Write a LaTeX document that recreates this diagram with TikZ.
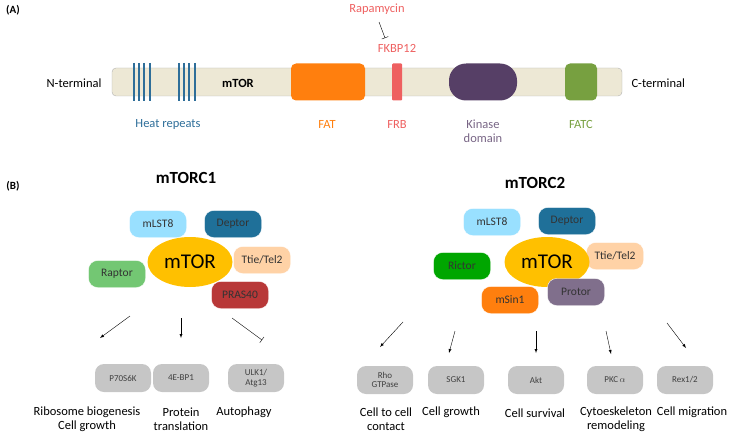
\documentclass[tikz,border=0pt]{standalone}
\usepackage{fontspec}
\setmainfont{Carlito}
\usepackage{xcolor}
\usetikzlibrary{arrows.meta,shapes.geometric}
\definecolor{beige}{HTML}{EDE8D5}
\definecolor{heatblue}{HTML}{2E6E99}
\definecolor{fatorange}{HTML}{FF7F0E}
\definecolor{frbred}{HTML}{EE6060}
\definecolor{kinpurple}{HTML}{563F66}
\definecolor{fatcgreen}{HTML}{77A040}
\definecolor{mtoryellow}{HTML}{FFC000}
\definecolor{depblue}{HTML}{1F7099}
\definecolor{prasred}{HTML}{B83838}
\begin{document}
\begin{tikzpicture}[>=latex, x=1pt, y=-1pt]
        \tikzstyle{dom} = [rounded corners=5pt, minimum height=37pt]
        \tikzstyle{sub} = [draw=white, rounded corners=9pt, minimum height=27pt,
            minimum width=57pt, font=\fontsize{11.5}{12}\selectfont, text=black!80]
        \tikzstyle{target} = [fill=gray!45, rounded corners=9pt, minimum height=28pt,
            minimum width=56pt, font=\fontsize{9}{9.5}\selectfont, align=center, text=black!75]
        \tikzstyle{effect} = [font=\fontsize{12.5}{14}\selectfont, align=center]
        \tikzstyle{stateEdge} = [->];
        \tikzstyle{blockEdge} = [-{Bar[width=7pt]}];
        \useasboundingbox (0,0) rectangle (735,441);

        % (A) domain structure
        \node[font=\bfseries\fontsize{11}{12}\selectfont] (labA) at (13,10) {(A)};
        \node[draw=gray!60, fill=beige, rounded corners=4pt, minimum width=510pt,
            minimum height=28pt] (bar) at (367,82) {};
        \foreach \x in {134,139,144,150,179,184,189,195}
            \draw[heatblue, line width=1.2pt] (\x,63) -- (\x,101);
        \node[font=\bfseries\fontsize{12.5}{13}\selectfont] (mtorA) at (238,83) {mTOR};
        \node[dom, fill=fatorange, minimum width=74pt] (fat) at (328,82) {};
        \node[dom, fill=frbred, minimum width=10pt, rounded corners=1pt] (frb) at (397,82) {};
        \node[dom, fill=kinpurple, minimum width=68pt, rounded corners=17pt] (kin) at (483,82) {};
        \node[dom, fill=fatcgreen, minimum width=32pt] (fatc) at (581,82) {};
        \node[effect, anchor=east] (nterm) at (105,83) {N-terminal};
        \node[effect, anchor=west] (cterm) at (628,83) {C-terminal};
        \node[effect, text=heatblue] (heatlab) at (168,124) {Heat repeats};
        \node[effect, text=fatorange] (fatlab) at (327,124) {FAT};
        \node[effect, text=frbred] (frblab) at (397,124) {FRB};
        \node[effect, text=kinpurple!80, anchor=north] (kinlab) at (483,116) {Kinase\\domain};
        \node[effect, text=fatcgreen] (fatclab) at (581,124) {FATC};
        \node[effect, text=frbred] (rapa) at (377,9) {Rapamycin};
        \node[effect, text=frbred] (fkbp) at (397,48) {FKBP12};
        \coordinate (rapaEnd) at (379,22);
        \coordinate (fkbpTop) at (385,38);
        \draw[blockEdge] (rapaEnd) -- (fkbpTop);

        % (B) complexes
        \node[font=\bfseries\fontsize{11}{12}\selectfont] (labB) at (13,186) {(B)};
        \node[font=\bfseries\fontsize{17}{19}\selectfont] (c1) at (186,178) {mTORC1};
        \node[font=\bfseries\fontsize{17}{19}\selectfont] (c2) at (535,183) {mTORC2};

        \node[sub, fill=blue!30!cyan!40] (lst1) at (158,224) {mLST8};
        \node[sub, fill=depblue] (dep1) at (233,224) {Deptor};
        \node[sub, fill=orange!35] (tti1) at (262,260) {Ttie/Tel2};
        \node[ellipse, fill=mtoryellow, minimum width=85pt, minimum height=50pt,
            font=\fontsize{21}{22}\selectfont] (mtor1) at (190,262) {mTOR};
        \node[sub, fill=green!60!black!55] (rap1) at (117,274) {Raptor};
        \node[sub, fill=prasred] (pras1) at (240,295) {PRAS40};

        \node[sub, fill=blue!30!cyan!40] (lst2) at (492,222) {mLST8};
        \node[sub, fill=depblue] (dep2) at (567,221) {Deptor};
        \node[sub, fill=orange!35] (tti2) at (615,256) {Ttie/Tel2};
        \node[ellipse, fill=mtoryellow, minimum width=85pt, minimum height=50pt,
            font=\fontsize{21}{22}\selectfont] (mtor2) at (547,262) {mTOR};
        \node[sub, fill=green!65!black] (ric2) at (462,266) {Rictor};
        \node[sub, fill=fatorange] (sin2) at (510,300) {mSin1};
        \node[sub, fill=kinpurple!75] (pro2) at (576,292) {Protor};

        % downstream targets
        \node[target] (p70) at (123,378) {P70S6K};
        \node[target] (ebp) at (181,378) {4E-BP1};
        \node[target] (ulk) at (256,378) {ULK1/\\Atg13};
        \node[target] (rho) at (385,380) {Rho\\GTPase};
        \node[target] (sgk) at (456,380) {SGK1};
        \node[target] (akt) at (536,380) {Akt};
        \node[target] (pkc) at (615,380) {PKC\,$\alpha$};
        \node[target] (rex) at (685,380) {Rex1/2};

        \foreach \name/\sx/\sy/\tx/\ty in {s1/130/316/100/338, s2/181/318/181/338,
            s3/232/318/262/340, s4/403/322/380/347, s5/455/331/449/353,
            s6/536/331/536/353, s7/606/331/611/354, s8/667/323/686/348} {
            \coordinate (\name a) at (\sx,\sy);
            \coordinate (\name b) at (\tx,\ty);
        }
        \draw[stateEdge] (s1a) -- (s1b);
        \draw[stateEdge] (s2a) -- (s2b);
        \draw[blockEdge] (s3a) -- (s3b);
        \draw[stateEdge] (s4a) -- (s4b);
        \draw[stateEdge] (s5a) -- (s5b);
        \draw[stateEdge] (s6a) -- (s6b);
        \draw[stateEdge] (s7a) -- (s7b);
        \draw[stateEdge] (s8a) -- (s8b);

        \node[effect] (e1) at (87,419) {Ribosome biogenesis\\Cell growth};
        \node[effect] (e2) at (181,419) {Protein\\translation};
        \node[effect] (e3) at (244,412) {Autophagy};
        \node[effect] (e4) at (386,419) {Cell to cell\\contact};
        \node[effect] (e5) at (451,412) {Cell growth};
        \node[effect] (e6) at (535,413) {Cell survival};
        \node[effect] (e7) at (616,419) {Cytoeskeleton\\remodeling};
        \node[effect] (e8) at (692,412) {Cell migration};
    \end{tikzpicture}
\end{document}
